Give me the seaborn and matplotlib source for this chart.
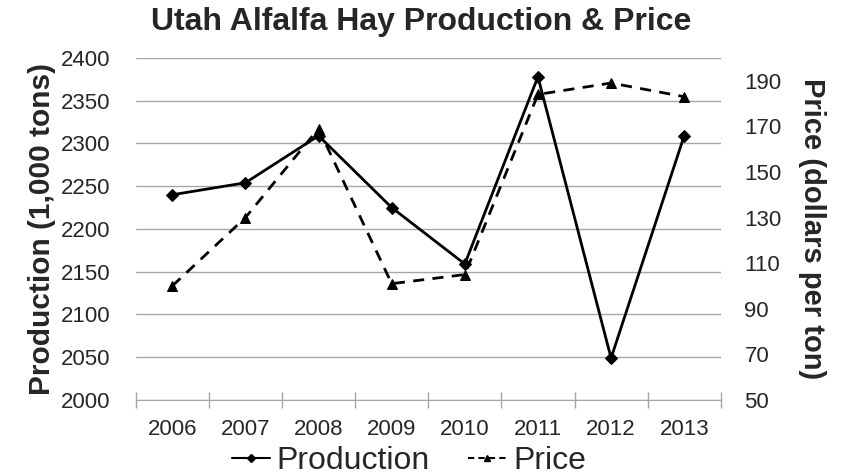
import numpy as np
import pandas as pd
import matplotlib
matplotlib.use("Agg")
import matplotlib.pyplot as plt
import seaborn as sns
from matplotlib.lines import Line2D

# Chart data
years = ["2006", "2007", "2008", "2009", "2010", "2011", "2012", "2013"]
production = [2240, 2254, 2309, 2225, 2159, 2378, 2049, 2309]   # 1,000 tons
price = [100, 130, 169, 101, 105, 184, 189, 183]               # dollars per ton

df = pd.DataFrame({"pos": np.arange(len(years)), "year": years,
                   "production": production, "price": price})

sns.set_style("white")
plt.rcParams["font.family"] = ["Liberation Sans", "DejaVu Sans"]

fig, ax = plt.subplots(figsize=(8.43, 4.75), dpi=100)
fig.subplots_adjust(left=0.161, right=0.855, top=0.878, bottom=0.158)
ax2 = ax.twinx()

grid_col = "#a6a6a6"

# Production (left axis)
sns.lineplot(data=df, x="pos", y="production", ax=ax, color="black",
             linewidth=2, marker="D", markersize=6, markeredgecolor="black",
             zorder=4)
# Price (right axis)
sns.lineplot(data=df, x="pos", y="price", ax=ax2, color="black",
             linewidth=2, marker="^", markersize=7, markeredgecolor="black",
             dashes=False, zorder=4)
ax2.lines[0].set_linestyle((0, (4, 3)))

ax.set_ylim(2000, 2400)
ax.set_yticks(np.arange(2000, 2401, 50))
ax2.set_ylim(50, 200)
ax2.set_yticks(np.arange(50, 191, 20))

ax.set_xlim(-0.5, len(years) - 0.5)
ax.set_xticks(np.arange(-0.5, len(years), 1.0))
ax.set_xticklabels([])
ax.set_xticks(np.arange(len(years)), minor=True)
ax.set_xticklabels(years, minor=True)
ax.tick_params(axis="x", which="major", bottom=True, direction="inout",
               length=11, width=1, color=grid_col)
ax.tick_params(axis="x", which="minor", bottom=True, length=0, pad=14,
               labelsize=16)

ax.yaxis.grid(True, color=grid_col, linewidth=1)
ax.set_axisbelow(True)
ax.tick_params(axis="y", length=0, pad=18, labelsize=16)
ax2.tick_params(axis="y", length=0, pad=17, labelsize=16)

for a in (ax, ax2):
    for s in ("top", "left", "right"):
        a.spines[s].set_visible(False)
    a.spines["bottom"].set_color(grid_col)
    a.set_xlabel("")
ax2.spines["bottom"].set_visible(False)

ax.set_ylabel("Production (1,000 tons)", fontsize=21.5, fontweight="bold",
              labelpad=4)
ax2.set_ylabel("Price (dollars per ton)", fontsize=21, fontweight="bold",
               rotation=270, labelpad=12, va="bottom")

fig.text(0.5, 0.953, "Utah Alfalfa Hay Production & Price", ha="center",
         va="center", fontsize=23, fontweight="bold")

handles = [
    Line2D([], [], color="black", linewidth=1.5, marker="D", markersize=4),
    Line2D([], [], color="black", linewidth=1.5, marker="^", markersize=5,
           linestyle=(0, (3, 2))),
]
fig.legend(handles, ["Production", "Price"], loc="center",
           bbox_to_anchor=(0.485, 0.03), ncol=2, frameon=False,
           fontsize=23, handlelength=1.2, handletextpad=0.2,
           columnspacing=1.2, borderpad=0)

fig.savefig("out.png", dpi=100)
